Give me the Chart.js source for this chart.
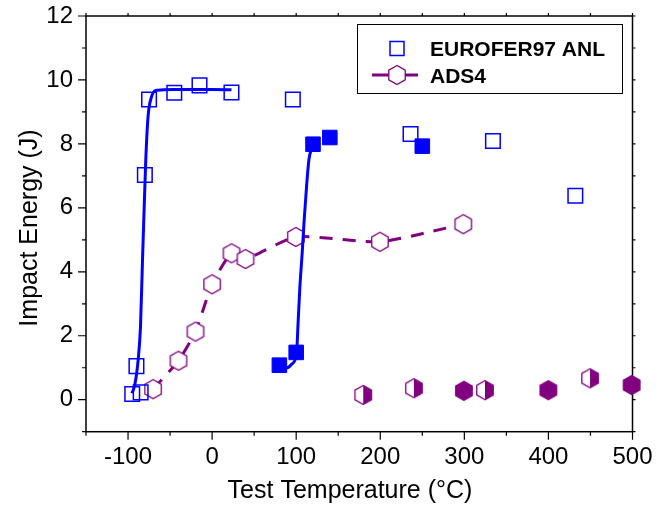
<!DOCTYPE html>
<html>
<head>
<meta charset="utf-8">
<script src="https://cdn.jsdelivr.net/npm/chart.js@4/dist/chart.umd.min.js"></script>
<style>
  html, body { margin: 0; padding: 0; background: #fff; }
  canvas { display: block; }
</style>
</head>
<body>
<canvas id="impact" width="656" height="507"></canvas>
<script>
// EUROFER97 ANL, open squares
var anlOpenT = [-95, -85, -90, -80, -75, -45, -15, 23, 96, 236, 334, 432];
var anlOpenE = [0.18, 0.23, 1.05, 7.03, 9.39, 9.6, 9.83, 9.61, 9.39, 8.31, 8.09, 6.38];
// EUROFER97 ANL, filled squares
var anlFillT = [80, 100, 120, 140, 250];
var anlFillE = [1.08, 1.48, 7.99, 8.2, 7.93];
// blue fit curves
var fit1T = [-95.4, -92, -88, -85.2, -82.8, -80.9, -78.9, -76.2, -72.1, -65.4, -45, -20, 0, 23];
var fit1E = [0.2, 0.46, 1.24, 2.28, 4.37, 5.93, 7.5, 8.85, 9.47, 9.68, 9.7, 9.7, 9.7, 9.69];
var fit2T = [86, 91, 95, 100.4, 102.4, 104.4, 107.1, 109.5, 112.3, 115.1, 118.3, 120.2];
var fit2E = [0.98, 1.02, 1.12, 1.45, 2.49, 3.53, 4.58, 5.62, 6.66, 7.5, 7.86, 7.99];
// ADS4 open hexagons (dashed line)
var adsT = [-70.2, -40, -19.8, 0, 23.1, 39.7, 99.6, 199.6, 298.7];
var adsE = [0.33, 1.22, 2.13, 3.61, 4.58, 4.4, 5.09, 4.94, 5.49];
// ADS4 half filled hexagons
var adsHalfT = [179.7, 240, 324.5, 449.5];
var adsHalfE = [0.15, 0.36, 0.30, 0.67];
// ADS4 filled hexagons
var adsFullT = [299.5, 399.9, 499];
var adsFullE = [0.28, 0.30, 0.46];

var xTicks = [-100, 0, 100, 200, 300, 400, 500];
var yTicks = [0, 2, 4, 6, 8, 10, 12];

var BLUE = '#0000ff';
var PURPLE = '#800080';
var FONT = "'Liberation Sans', Arial, Helvetica, sans-serif";

function pts(xs, ys) {
    return xs.map(function (x, i) { return { x: x, y: ys[i] }; });
}

function hexImage(kind) {
    var r = 9.5, w = 22, h = 22;
    var c = document.createElement('canvas');
    c.width = w; c.height = h;
    var g = c.getContext('2d');
    var cx = w / 2, cy = h / 2;
    function path() {
        g.beginPath();
        for (var i = 0; i < 6; i++) {
            var a = Math.PI / 2 + i * Math.PI / 3;
            g.lineTo(cx + r * Math.cos(a), cy - r * Math.sin(a));
        }
        g.closePath();
    }
    path();
    g.fillStyle = kind === 'full' ? PURPLE : '#fff';
    g.fill();
    if (kind === 'half') {
        g.save(); path(); g.clip();
        g.fillStyle = PURPLE;
        g.fillRect(cx, 0, w, h);
        g.restore();
    }
    path();
    g.strokeStyle = PURPLE;
    g.lineWidth = 1.3;
    g.stroke();
    return c;
}

var hexOpen = hexImage('open');
var hexHalf = hexImage('half');
var hexFull = hexImage('full');

// frame, ticks, axis titles and legend
var decor = {
    id: 'decor',
    beforeDatasetsDraw: function (chart) {
        var ctx = chart.ctx, a = chart.chartArea;
        var xs = chart.scales.x, ys = chart.scales.y;
        ctx.save();
        ctx.strokeStyle = '#000';
        ctx.lineWidth = 1.5;
        ctx.strokeRect(a.left, a.top, a.right - a.left, a.bottom - a.top);
        ctx.lineWidth = 1.2;
        ctx.beginPath();
        for (var t = -150; t <= 500; t += 50) {
            var px = xs.getPixelForValue(t);
            var major = t % 100 === 0;
            ctx.moveTo(px, a.bottom); ctx.lineTo(px, a.bottom + (major ? 8 : 4));
            ctx.moveTo(px, a.top); ctx.lineTo(px, a.top - 3);
        }
        for (var v = -1; v <= 12; v += 1) {
            var py = ys.getPixelForValue(v);
            var maj = v % 2 === 0;
            ctx.moveTo(a.left, py); ctx.lineTo(a.left - (maj ? 8 : 4), py);
            ctx.moveTo(a.right, py); ctx.lineTo(a.right + 3, py);
        }
        ctx.stroke();
        ctx.restore();
    },
    afterDraw: function (chart) {
        var ctx = chart.ctx;
        ctx.save();
        ctx.fillStyle = '#000';
        ctx.font = '25px ' + FONT;
        ctx.textAlign = 'center';
        ctx.textBaseline = 'middle';
        ctx.fillText('Test Temperature (°C)', 350, 491);
        ctx.translate(30, 228);
        ctx.rotate(-Math.PI / 2);
        ctx.fillText('Impact Energy (J)', 0, 0);
        ctx.restore();

        // legend box
        ctx.save();
        ctx.fillStyle = '#fff';
        ctx.fillRect(357.5, 24.5, 265, 69);
        ctx.strokeStyle = '#000';
        ctx.lineWidth = 1;
        ctx.strokeRect(357.5, 24.5, 265, 69);
        ctx.strokeStyle = BLUE;
        ctx.lineWidth = 1.5;
        ctx.strokeRect(390, 41.5, 14, 14);
        ctx.strokeStyle = PURPLE;
        ctx.lineWidth = 3;
        ctx.beginPath();
        ctx.moveTo(372, 75); ctx.lineTo(418, 75);
        ctx.stroke();
        ctx.drawImage(hexOpen, 397 - 11, 75 - 11);
        ctx.fillStyle = '#000';
        ctx.font = 'bold 21px ' + FONT;
        ctx.textAlign = 'left';
        ctx.textBaseline = 'alphabetic';
        ctx.fillText('EUROFER97 ANL', 430, 56);
        ctx.fillText('ADS4', 430, 83);
        ctx.restore();
    }
};

var ctx = document.getElementById('impact').getContext('2d');

var graphic = new Chart(ctx, {
    type: 'scatter',
    data: {
        datasets: [
            {
                label: 'fit 1',
                data: pts(fit1T, fit1E),
                showLine: true,
                borderColor: BLUE,
                borderWidth: 3,
                pointRadius: 0,
                cubicInterpolationMode: 'monotone',
                clip: false
            },
            {
                label: 'fit 2',
                data: pts(fit2T, fit2E),
                showLine: true,
                borderColor: BLUE,
                borderWidth: 3,
                pointRadius: 0,
                cubicInterpolationMode: 'monotone',
                clip: false
            },
            {
                label: 'EUROFER97 ANL filled',
                data: pts(anlFillT, anlFillE),
                pointStyle: 'rect',
                pointRadius: 10.3,
                backgroundColor: BLUE,
                borderColor: BLUE,
                borderWidth: 1,
                clip: false
            },
            {
                label: 'EUROFER97 ANL',
                data: pts(anlOpenT, anlOpenE),
                pointStyle: 'rect',
                pointRadius: 10.3,
                backgroundColor: 'rgba(0,0,0,0)',
                borderColor: BLUE,
                borderWidth: 1.5,
                clip: false
            },
            {
                label: 'ADS4 filled',
                data: pts(adsFullT, adsFullE),
                pointStyle: hexFull,
                clip: false
            },
            {
                label: 'ADS4 half',
                data: pts(adsHalfT, adsHalfE),
                pointStyle: hexHalf,
                clip: false
            },
            {
                label: 'ADS4',
                data: pts(adsT, adsE),
                showLine: true,
                borderColor: PURPLE,
                borderWidth: 3,
                borderDash: [13, 10],
                tension: 0.2,
                pointStyle: hexOpen,
                clip: false
            }
        ]
    },
    options: {
        responsive: false,
        animation: false,
        devicePixelRatio: 1,
        layout: { padding: { top: 16, right: 23.5, left: 0, bottom: 0 } },
        plugins: {
            legend: { display: false },
            tooltip: { enabled: false }
        },
        scales: {
            x: {
                type: 'linear',
                min: -150,
                max: 500,
                afterBuildTicks: function (s) { s.ticks = xTicks.map(function (v) { return { value: v }; }); },
                afterFit: function (s) { s.height = 75.3; s.paddingLeft = 0; s.paddingRight = 0; },
                grid: { display: false, drawTicks: false },
                border: { display: false },
                ticks: {
                    color: '#000',
                    font: { family: FONT, size: 24 },
                    padding: 11,
                    maxRotation: 0
                }
            },
            y: {
                type: 'linear',
                min: -1,
                max: 12,
                afterBuildTicks: function (s) { s.ticks = yTicks.map(function (v) { return { value: v }; }); },
                afterFit: function (s) { s.width = 86; s.paddingTop = 0; s.paddingBottom = 0; },
                grid: { display: false, drawTicks: false },
                border: { display: false },
                ticks: {
                    color: '#000',
                    font: { family: FONT, size: 24 },
                    padding: 13
                }
            }
        }
    },
    plugins: [decor]
});
</script>
</body>
</html>
